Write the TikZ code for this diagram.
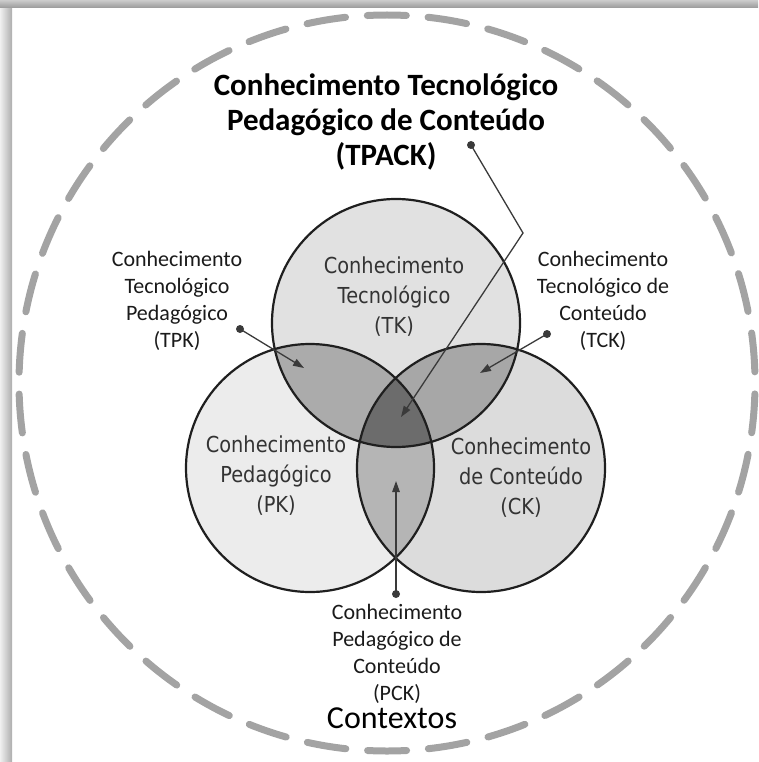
\documentclass[tikz,border=0pt]{standalone}
\usepackage{fontspec}
\setmainfont{Carlito}
\newfontfamily\circfont[FakeStretch=0.88]{DejaVu Sans}
\usetikzlibrary{arrows.meta}
\definecolor{tkfill}{HTML}{E1E1E1}
\definecolor{pkfill}{HTML}{ECECEC}
\definecolor{ckfill}{HTML}{DCDCDC}
\definecolor{tpkfill}{HTML}{ABABAB}
\definecolor{tckfill}{HTML}{A7A7A7}
\definecolor{pckfill}{HTML}{B5B5B5}
\definecolor{tpackfill}{HTML}{6C6C6C}
\definecolor{dashgray}{HTML}{A3A3A3}
\definecolor{linegray}{HTML}{3A3A3A}
\definecolor{intext}{HTML}{333333}
\definecolor{outtext}{HTML}{1A1A1A}
\tikzset{
  outline/.style={draw=black!88, line width=2.2pt},
  incirc/.style={inner sep=0pt, align=center, text=intext, font=\circfont\fontsize{22}{30}\selectfont},
  outlabel/.style={inner sep=0pt, align=center, text=outtext, font=\fontsize{22}{27}\selectfont},
  dotnode/.style={circle, fill=linegray, inner sep=0pt, minimum size=8pt},
  conn/.style={draw=linegray, line width=1.3pt, -{Triangle[length=11pt,width=7.5pt]}},
}
\begin{document}
\begin{tikzpicture}[x=1pt,y=-1pt]
\useasboundingbox (0,0) rectangle (758,762);
% frame shadow
\shade[left color=black!6, right color=black!32] (0,0) rectangle (12,762);
\shade[top color=black!20, bottom color=black!40] (0,0) rectangle (758,8);
% outer context circle
\coordinate (ctx) at (387,383);
\draw[dashgray, line width=7pt, line cap=round, dash pattern=on 39pt off 21.85pt, dash phase=49.95pt] (ctx) circle (368);
% circle centres
\coordinate (tk) at (396,323);
\coordinate (pk) at (310,468);
\coordinate (ck) at (481,468);
% base fills
\fill[pkfill] (pk) circle (124);
\fill[ckfill] (ck) circle (124);
\fill[tkfill] (tk) circle (124);
% pairwise overlaps
\begin{scope}
  \clip (tk) circle (124);
  \fill[tpkfill] (pk) circle (124);
  \fill[tckfill] (ck) circle (124);
\end{scope}
\begin{scope}
  \clip (pk) circle (124);
  \fill[pckfill] (ck) circle (124);
\end{scope}
\begin{scope}
  \clip (tk) circle (124);
  \clip (pk) circle (124);
  \fill[tpackfill] (ck) circle (124);
\end{scope}
% outlines
\draw[outline] (pk) circle (124);
\draw[outline] (ck) circle (124);
\draw[outline] (tk) circle (124);
% circle labels
\node[incirc] (tklab) at (394,297) {Conhecimento\\Tecnológico\\(TK)};
\node[incirc] (pklab) at (276,476) {Conhecimento\\Pedagógico\\(PK)};
\node[incirc] (cklab) at (521,478) {Conhecimento\\de Conteúdo\\(CK)};
% title
\node[inner sep=0pt, align=center, text=black, font=\bfseries\fontsize{31}{35}\selectfont] (tpack) at (386,122) {Conhecimento Tecnológico\\Pedagógico de Conteúdo\\(TPACK)};
% outside labels
\node[outlabel] (tpk) at (177,301) {Conhecimento\\Tecnológico\\Pedagógico\\(TPK)};
\node[outlabel] (tck) at (603,301) {Conhecimento\\Tecnológico de\\Conteúdo\\(TCK)};
\node[outlabel] (pck) at (397,654) {Conhecimento\\Pedagógico de\\Conteúdo\\(PCK)};
\node[inner sep=0pt, text=black, font=\fontsize{32}{38}\selectfont, anchor=base] (ctxlab) at (392,728) {Contextos};
% connectors
\node[dotnode] (d1) at (471,145) {};
\coordinate (b1) at (523,233);
\coordinate (t1) at (401,417);
\draw[conn] (d1.center) -- (b1) -- (t1);
\node[dotnode] (d2) at (240,329) {};
\coordinate (t2) at (304,368);
\draw[conn] (d2.center) -- (t2);
\node[dotnode] (d3) at (547,334) {};
\coordinate (t3) at (480,373);
\draw[conn] (d3.center) -- (t3);
\node[dotnode] (d4) at (396,594) {};
\coordinate (t4) at (396,481);
\draw[conn] (d4.center) -- (t4);
\end{tikzpicture}
\end{document}
